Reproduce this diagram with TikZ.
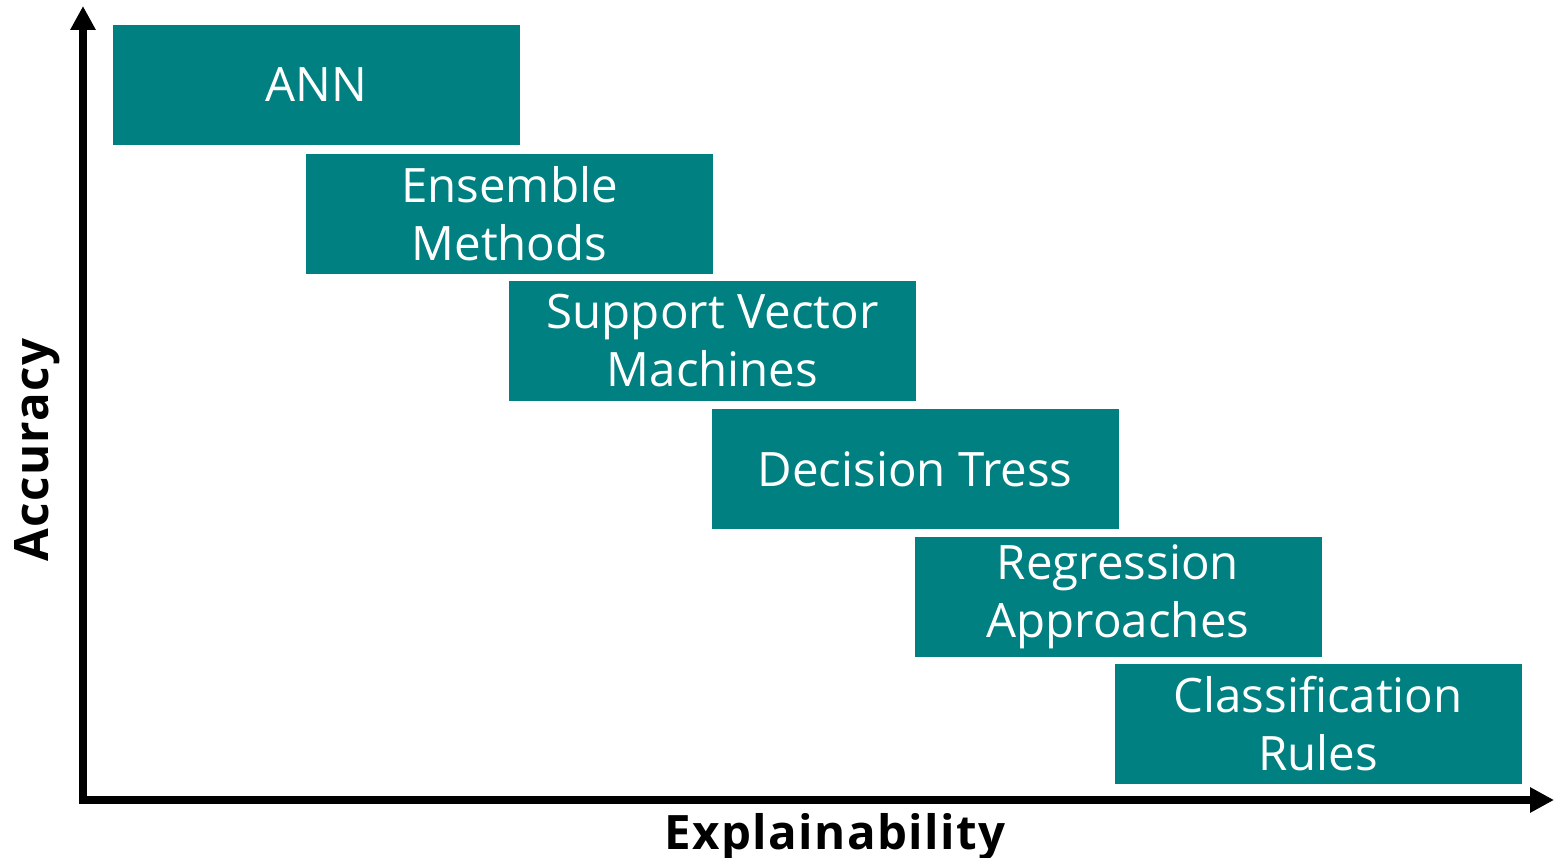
\documentclass[tikz,border=0pt]{standalone}
\usepackage{fontspec}
\setmainfont{Open Sans}
\usepackage{tikz}
\usetikzlibrary{arrows.meta}

\definecolor{boxteal}{HTML}{008080}

\tikzset{
  model/.style={fill=boxteal, text=white, align=center, inner sep=0pt,
    minimum width=8.14cm, minimum height=2.4cm,
    font=\fontsize{27}{33}\selectfont},
  axislabel/.style={font=\fontsize{27}{30}\selectfont\bfseries\addfontfeatures{LetterSpace=3}}
}

\begin{document}
\begin{tikzpicture}
\useasboundingbox (-1.66,-1.14) rectangle (29.42,16.0);

\draw[line width=0.16cm,{Triangle[length=0.48cm,width=0.48cm]}-{Triangle[length=0.48cm,width=0.48cm]}]
  (0,15.88) -- (0,0) -- (29.42,0); % axes

\node[axislabel,anchor=north] (xlab) at (15.04,-0.14) {Explainability};
\node[axislabel,rotate=90] (ylab) at (-0.92,7.0) {Accuracy};

% one box per model family, from accurate to explainable
\node[model] (ann) at (4.67,14.3) {ANN};
\node[model] (ens) at (8.53,11.72) {Ensemble\\Methods};
\node[model] (svm) at (12.59,9.18) {Support Vector\\Machines};
\node[model] (dtree) at (16.64,6.62) {Decision Tress};
\node[model] (regr) at (20.70,4.06) {Regression\\Approaches};
\node[model] (rules) at (24.70,1.52) {Classification\\Rules};

\end{tikzpicture}
\end{document}
